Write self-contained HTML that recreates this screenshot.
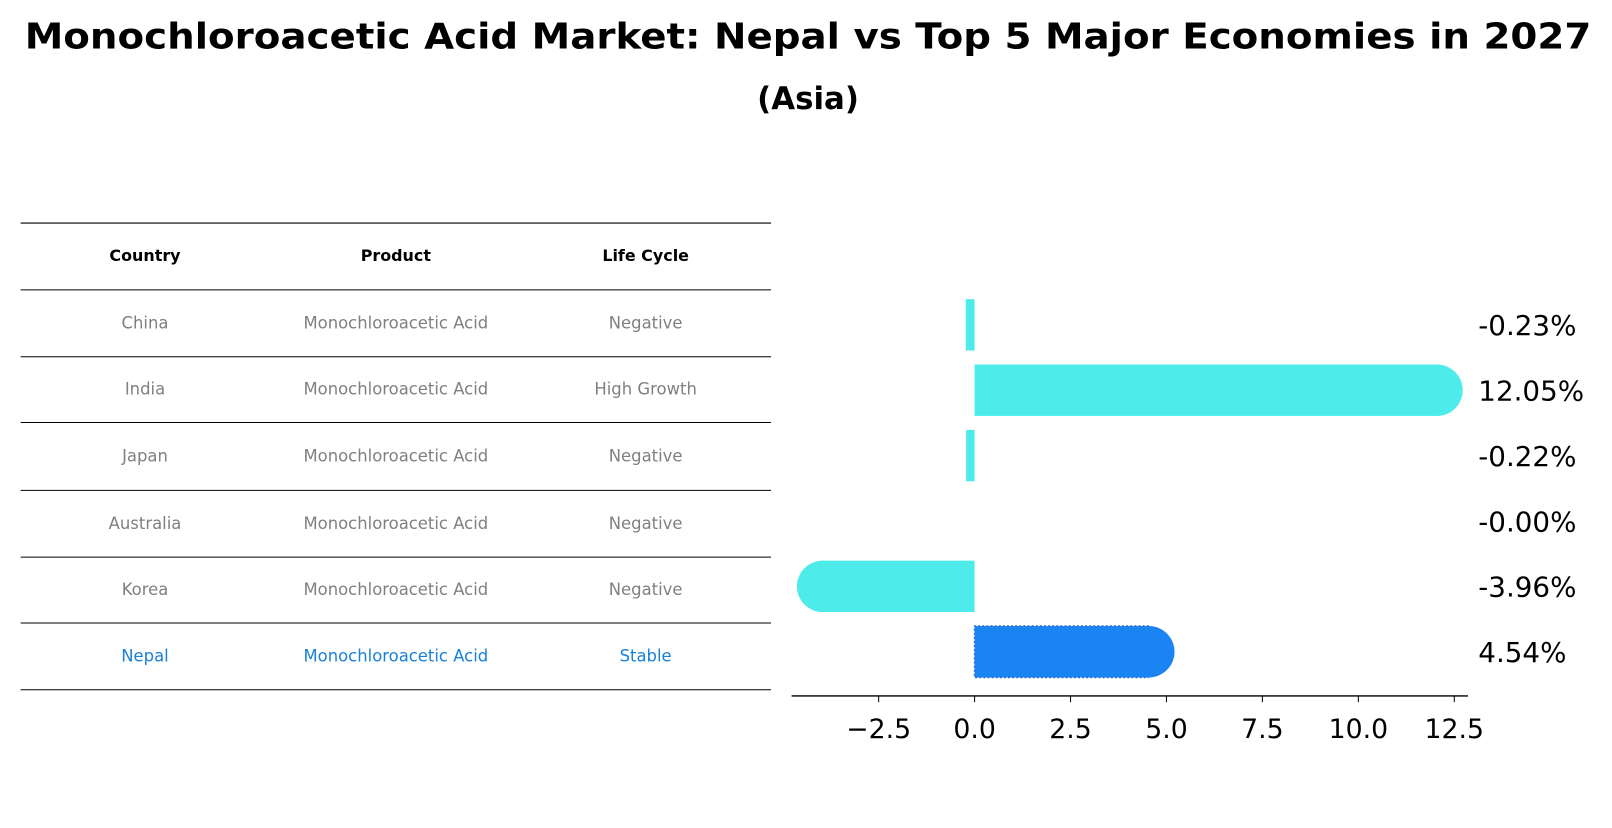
<!DOCTYPE html>
<html><head><meta charset="utf-8"><style>
body{margin:0;background:#fff;font-family:"Liberation Sans","DejaVu Sans",sans-serif;}
svg text{font-family:"DejaVu Sans","Liberation Sans",sans-serif;}
</style></head><body>
<svg width="1612" height="823" viewBox="0 0 1568 800.6" xmlns="http://www.w3.org/2000/svg">
<text x="786" y="47" text-anchor="middle" font-size="35" font-weight="bold" textLength="1524" lengthAdjust="spacingAndGlyphs">Monochloroacetic Acid Market: Nepal vs Top 5 Major Economies in 2027</text>
<text x="786" y="106" text-anchor="middle" font-size="30" font-weight="bold">(Asia)</text>
<g id="table"></g>
<g id="plot"></g>
</svg>
<script>
const countries=["China","India","Japan","Australia","Korea","Nepal"];
const products=["Monochloroacetic Acid","Monochloroacetic Acid","Monochloroacetic Acid","Monochloroacetic Acid","Monochloroacetic Acid","Monochloroacetic Acid"];
const lifeCycles=["Negative","High Growth","Negative","Negative","Negative","Stable"];
const values=[-0.23,12.05,-0.22,-0.00,-3.96,4.54];
const xTicks=[-2.5,0,2.5,5,7.5,10,12.5];
const NS="http://www.w3.org/2000/svg";
function mk(t,a,p){const e=document.createElementNS(NS,t);for(const k in a)e.setAttribute(k,a[k]);p.appendChild(e);return e;}
const tbl=document.getElementById('table');
const lineYs=[217,282,347,411,477,542,606,671];
lineYs.forEach((y,i)=>{const l=mk('line',{x1:20,x2:750,y1:y,y2:y,stroke:'#000','stroke-width':1},tbl);

});
const colX=[141,385,628];
["Country","Product","Life Cycle"].forEach((h,i)=>{const t=mk('text',{x:colX[i],y:254,'text-anchor':'middle','font-size':15.5,'font-weight':'bold'},tbl);t.textContent=h;

});
countries.forEach((c,i)=>{const y=(lineYs[i+1]+lineYs[i+2])/2+5;const col=c==="Nepal"?'#1a80d9':'#808080';
[c,products[i],lifeCycles[i]].forEach((v,j)=>{const t=mk('text',{x:colX[j],y:y,'text-anchor':'middle','font-size':16,fill:col},tbl);t.textContent=v;

});});
const plot=document.getElementById('plot');
const x0=948,ppu=37.33;
const X=v=>x0+v*ppu;
const rowY=i=>316+i*63.6;
const bh=50;
mk('line',{x1:770,x2:1428,y1:677,y2:677,stroke:'#000','stroke-width':1.3},plot);
xTicks.forEach(v=>{const x=X(v);mk('line',{x1:x,x2:x,y1:677,y2:683,stroke:'#000','stroke-width':1},plot);
const t=mk('text',{x:x,y:718,'text-anchor':'middle','font-size':26},plot);t.textContent=(v<0?'\u2212':'')+Math.abs(v).toFixed(1);

});
values.forEach((v,i)=>{const cy=rowY(i);const nep=countries[i]==="Nepal";const col=nep?'#1a84f2':'#4deceb';
const x1=Math.min(X(0),X(v)),w=Math.abs(X(v)-X(0));
const g=mk('g',{},plot);


if(Math.abs(v)>1){mk('circle',{cx:X(v),cy:cy,r:bh/2,fill:col},g);}
mk('rect',{x:x1,y:cy-bh/2,width:w,height:bh,fill:col},g);
if(nep){mk('path',{d:`M${X(v)} ${cy-bh/2} H${x1} V${cy+bh/2} H${X(v)}`,fill:'none',stroke:'#2a6fd0','stroke-width':1.5,'stroke-dasharray':'2 2'},g);}
const t=mk('text',{x:1438,y:cy+10,'font-size':27},plot);t.textContent=(v<0||(v===0&&i===3)?'-':'')+Math.abs(v).toFixed(2)+'%';

});
</script>
</body></html>
